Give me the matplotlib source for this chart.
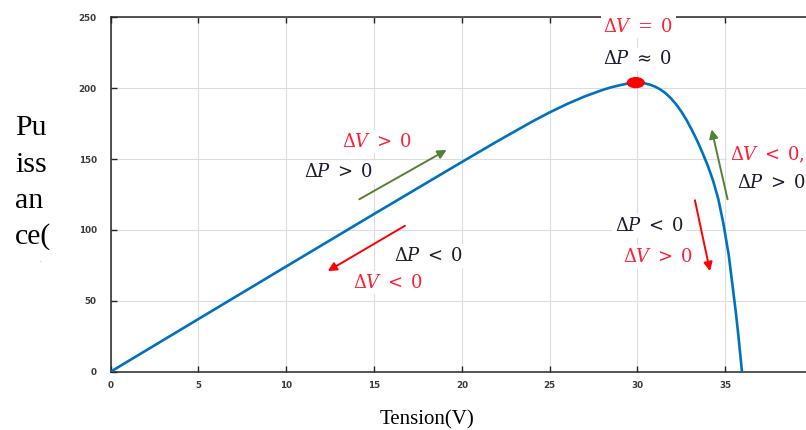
import matplotlib
matplotlib.use("Agg")
import matplotlib.pyplot as plt
from matplotlib.patches import Ellipse

# P-V characteristic of the PV panel
tension = [0, 5, 10, 15, 20, 22, 24, 25, 26, 27, 28, 28.5, 29, 29.5, 29.9,
           30.3, 30.7, 31.0, 31.3, 31.6, 31.9, 32.2, 32.5, 32.8, 33.1, 33.4,
           33.7, 34.0, 34.3, 34.6, 34.9, 35.2, 35.45, 35.6, 35.75, 35.87, 35.95]
puissance = [0, 37.2, 74.3, 111.3, 148, 162.5, 176.5, 183, 189, 194.3, 198.8,
             200.7, 202.2, 203.5, 204, 203.8, 202.6, 201.2, 199.2, 196.5,
             193.0, 188.7, 183.5, 177.5, 170.5, 163, 154.5, 145.5, 135, 122,
             104, 82, 57, 42, 25, 10, 0]

# maximum power point
mpp_v = 29.9
mpp_p = 204

x_ticks = [0, 5, 10, 15, 20, 25, 30, 35, 40]
y_ticks = [0, 50, 100, 150, 200, 250]

RED = "#ff1f35"
DARK = "#1a1a30"
GREEN = "#548235"
BLUE = "#0072BD"

plt.rcParams["mathtext.fontset"] = "dejavuserif"

fig = plt.figure(figsize=(8.06, 4.30), dpi=100)
ax = fig.add_axes([0.1373, 0.1356, 0.8715, 0.8238])

ax.plot(tension, puissance, color=BLUE, lw=1.9, solid_capstyle="round",
        solid_joinstyle="round", zorder=3)
ax.add_patch(Ellipse((mpp_v, mpp_p), width=0.95, height=7.0, color="#ff0000", zorder=4))

ax.set_xlim(0, 40)
ax.set_ylim(0, 250)
ax.set_xticks(x_ticks)
ax.set_yticks(y_ticks)
ax.grid(True, color="#dddddd", lw=0.8, zorder=0)
ax.set_axisbelow(True)
ax.tick_params(direction="in", top=True, right=True, length=4.5, width=1.0,
               color="#262626", labelsize=6.3, labelcolor="#3a3a3a")
ax.tick_params(axis="x", pad=6.5)
ax.tick_params(axis="y", pad=10)
for lab in ax.get_xticklabels() + ax.get_yticklabels():
    lab.set_fontweight("bold")
for sp in ax.spines.values():
    sp.set_linewidth(1.1)
    sp.set_color("#262626")

box = dict(boxstyle="square,pad=0.15", fc="white", ec="none")


def label(x, y, s, color, ha="center"):
    ax.text(x, y, s, color=color, fontsize=13, ha=ha, va="center",
            bbox=box, zorder=5, clip_on=False)


def arrow(x0, y0, x1, y1, color):
    ax.annotate("", xy=(x1, y1), xytext=(x0, y0),
                arrowprops=dict(arrowstyle="-|>", color=color, lw=1.4,
                                mutation_scale=13, shrinkA=0, shrinkB=0),
                zorder=4)


# climbing the left side
arrow(14.16, 121.7, 19.13, 156.5, GREEN)
label(15.18, 162.3, r"$\Delta V\;>\;0$", RED)
label(12.96, 141.0, r"$\Delta P\;>\;0$", DARK)

arrow(16.76, 103.0, 12.36, 71.0, "#ff0000")
label(18.09, 81.7, r"$\Delta P\;<\;0$", DARK)
label(15.81, 62.8, r"$\Delta V\;<\;0$", RED)

# at the maximum
label(30.04, 243.5, r"$\Delta V\;=\;0$", RED)
label(29.99, 220.5, r"$\Delta P\;\approx\;0$", DARK)

# right side of the knee
arrow(35.13, 121.7, 34.22, 171.0, GREEN)
label(35.27, 152.9, r"$\Delta V\;<\;0,$", RED, ha="left")
label(35.65, 133.0, r"$\Delta P\;>\;0$", DARK, ha="left")

arrow(33.27, 121.0, 34.13, 71.0, "#ff0000")
label(30.66, 102.8, r"$\Delta P\;<\;0$", DARK)
label(31.17, 81.2, r"$\Delta V\;>\;0$", RED)

# axis titles
serif = "Liberation Serif"
fig.text(427.5 / 806, 1 - 424 / 430, "Tension(V)", family=serif, fontsize=15,
         ha="center", va="baseline", color="black")
for line, base in zip(["Pu", "iss", "an", "ce("], [135, 172, 208, 244]):
    fig.text(15 / 806, 1 - base / 430, line, family=serif, fontsize=21.5,
             ha="left", va="baseline", color="black")
fig.text(40 / 806, 1 - 262 / 430, ".", family=serif, fontsize=5,
         ha="center", va="baseline", color="#777777")

fig.savefig("out.png", dpi=100)
